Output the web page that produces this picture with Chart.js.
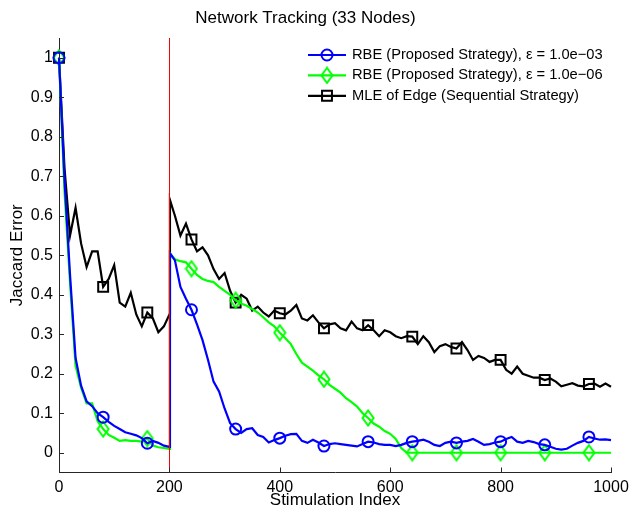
<!DOCTYPE html>
<html>
<head>
<meta charset="utf-8">
<script src="https://cdn.jsdelivr.net/npm/chart.js@4.4.0/dist/chart.umd.min.js"></script>
<style>
  html, body { margin: 0; padding: 0; background: #fff; }
</style>
</head>
<body>
<canvas id="chart" width="631" height="513"></canvas>
<script>
// stimulation index sampled every 10 steps (+ the step right after the change at 200)
const stimIndex = [0, 10, 20, 30, 40, 50, 60, 70, 80, 90, 100, 110, 120, 130, 140, 150, 160, 170, 180, 190, 200,
  201, 210, 220, 230, 240, 250, 260, 270, 280, 290, 300, 310, 320, 330, 340, 350, 360, 370, 380, 390, 400,
  410, 420, 430, 440, 450, 460, 470, 480, 490, 500, 510, 520, 530, 540, 550, 560, 570, 580, 590, 600,
  610, 620, 630, 640, 650, 660, 670, 680, 690, 700, 710, 720, 730, 740, 750, 760, 770, 780, 790, 800,
  810, 820, 830, 840, 850, 860, 870, 880, 890, 900, 910, 920, 930, 940, 950, 960, 970, 980, 990, 1000];

// RBE, eps = 1.0e-03
const rbeLoose = [1.0, 0.69, 0.45, 0.24, 0.17, 0.13, 0.118, 0.10, 0.09, 0.078, 0.068, 0.06, 0.052, 0.048, 0.044, 0.037, 0.024, 0.03, 0.025, 0.018, 0.015,
  0.505, 0.487, 0.42, 0.39, 0.362, 0.325, 0.285, 0.235, 0.18, 0.155, 0.112,
  0.075, 0.06, 0.05, 0.06, 0.062, 0.045, 0.04, 0.026, 0.032, 0.037,
  0.043, 0.047, 0.048, 0.03, 0.025, 0.033, 0.026, 0.017, 0.022, 0.024,
  0.022, 0.02, 0.018, 0.016, 0.022, 0.028, 0.026, 0.022, 0.02, 0.02,
  0.017, 0.02, 0.025, 0.028, 0.03, 0.033, 0.028, 0.02, 0.017, 0.025,
  0.028, 0.025, 0.028, 0.03, 0.035, 0.028, 0.02, 0.022, 0.026, 0.028,
  0.035, 0.04, 0.028, 0.025, 0.03, 0.027, 0.022, 0.02, 0.015, 0.01,
  0.008, 0.01, 0.018, 0.025, 0.03, 0.04, 0.036, 0.033, 0.034, 0.032];

// RBE, eps = 1.0e-06
const rbeTight = [1.0, 0.66, 0.43, 0.22, 0.165, 0.125, 0.125, 0.08, 0.06, 0.045, 0.038, 0.03, 0.032, 0.03, 0.03, 0.028, 0.036, 0.018, 0.014, 0.012, 0.01,
  0.505, 0.49, 0.485, 0.482, 0.466, 0.45, 0.44, 0.435, 0.432, 0.42, 0.41,
  0.40, 0.386, 0.378, 0.372, 0.364, 0.355, 0.343, 0.33, 0.32, 0.304,
  0.29, 0.275, 0.25, 0.228, 0.218, 0.208, 0.196, 0.186, 0.172, 0.162,
  0.152, 0.138, 0.128, 0.117, 0.10, 0.088, 0.074, 0.066, 0.055, 0.048,
  0.035, 0.012, 0, 0, 0, 0, 0, 0, 0, 0,
  0, 0, 0, 0, 0, 0, 0, 0, 0, 0,
  0, 0, 0, 0, 0, 0, 0, 0, 0, 0,
  0, 0, 0, 0, 0, 0, 0, 0, 0, 0];

// MLE of edge (sequential)
const mleEdge = [1.0, 0.72, 0.55, 0.62, 0.53, 0.47, 0.51, 0.51, 0.42, 0.44, 0.475, 0.38, 0.37, 0.405, 0.35, 0.32, 0.355, 0.34, 0.305, 0.32, 0.35,
  0.64, 0.60, 0.55, 0.58, 0.54, 0.51, 0.52, 0.50, 0.465, 0.44, 0.455,
  0.41, 0.38, 0.40, 0.39, 0.36, 0.37, 0.355, 0.345, 0.36, 0.353,
  0.35, 0.36, 0.374, 0.34, 0.335, 0.348, 0.33, 0.315, 0.325, 0.328,
  0.315, 0.31, 0.332, 0.315, 0.31, 0.323, 0.31, 0.295, 0.31, 0.305,
  0.295, 0.29, 0.295, 0.294, 0.275, 0.295, 0.28, 0.255, 0.27, 0.275,
  0.268, 0.264, 0.28, 0.26, 0.235, 0.245, 0.24, 0.23, 0.235, 0.235,
  0.21, 0.20, 0.218, 0.20, 0.195, 0.19, 0.19, 0.184, 0.188, 0.18,
  0.168, 0.172, 0.176, 0.17, 0.168, 0.174, 0.175, 0.167, 0.175, 0.167];

const seriesLabels = [
  'RBE (Proposed Strategy), \u03b5 = 1.0e\u221203',
  'RBE (Proposed Strategy), \u03b5 = 1.0e\u221206',
  'MLE of Edge (Sequential Strategy)'
];
const xTicks = [0, 200, 400, 600, 800, 1000];
const yTicks = [0, 0.1, 0.2, 0.3, 0.4, 0.5, 0.6, 0.7, 0.8, 0.9, 1];
const yTickLabels = ['0', '0.1', '0.2', '0.3', '0.4', '0.5', '0.6', '0.7', '0.8', '0.9', '1'];
const changePoint = 200;
const markerEvery = 80;

const fontFamily = '"Liberation Sans", Arial, Helvetica, sans-serif';
const axisColor = '#262626';

// matlab style diamond, a bit taller than wide
function diamondImage(color) {
  const c = document.createElement('canvas');
  c.width = 14; c.height = 18;
  const g = c.getContext('2d');
  g.strokeStyle = color;
  g.lineWidth = 2;
  g.beginPath();
  g.moveTo(7, 1.5); g.lineTo(12.5, 9); g.lineTo(7, 16.5); g.lineTo(1.5, 9);
  g.closePath();
  g.stroke();
  return c;
}

const styles = [
  { color: '#0000ff', marker: 'circle', radius: 5.5 },
  { color: '#00ff00', marker: diamondImage('#00ff00'), radius: 7 },
  { color: '#000000', marker: 'rect', radius: 7 }
];
const series = [rbeLoose, rbeTight, mleEdge];

const datasets = series.map((vals, k) => ({
  label: seriesLabels[k],
  data: stimIndex.map((x, i) => ({ x: x, y: vals[i] })),
  borderColor: styles[k].color,
  backgroundColor: 'transparent',
  borderWidth: 2.2,
  tension: 0,
  clip: false,
  pointStyle: styles[k].marker,
  pointRadius: c => (stimIndex[c.dataIndex] % markerEvery === 0 ? styles[k].radius : 0),
  pointHoverRadius: 0,
  pointBorderColor: styles[k].color,
  pointBackgroundColor: 'transparent',
  pointBorderWidth: 2
}));

// inward ticks + red line at the change point
const axisExtras = {
  id: 'axisExtras',
  afterDatasetsDraw(chart) {
    const { ctx, chartArea, scales } = chart;
    ctx.save();
    ctx.strokeStyle = 'rgb(255,0,0)';
    ctx.lineWidth = 1;
    const rx = Math.round(scales.x.getPixelForValue(changePoint)) + 0.5;
    ctx.beginPath();
    ctx.moveTo(rx, chartArea.top);
    ctx.lineTo(rx, chartArea.bottom);
    ctx.stroke();
    ctx.restore();

    ctx.save();
    ctx.strokeStyle = axisColor;
    ctx.lineWidth = 1;
    ctx.beginPath();
    yTicks.forEach(v => {
      const py = Math.round(scales.y.getPixelForValue(v)) + 0.5;
      ctx.moveTo(chartArea.left, py);
      ctx.lineTo(chartArea.left + 5, py);
    });
    xTicks.forEach(v => {
      const px = Math.round(scales.x.getPixelForValue(v)) + 0.5;
      ctx.moveTo(px, chartArea.bottom);
      ctx.lineTo(px, chartArea.bottom - 5);
    });
    ctx.stroke();
    ctx.restore();
  }
};

const legendBox = {
  id: 'legendBox',
  afterDraw(chart) {
    const { ctx, chartArea } = chart;
    ctx.save();
    ctx.font = '14.7px ' + fontFamily;
    ctx.textBaseline = 'middle';
    chart.data.datasets.forEach((ds, i) => {
      const y = chartArea.top + 17 + i * 20.4;
      const x0 = chartArea.right - 303;
      const x1 = x0 + 38;
      ctx.strokeStyle = ds.borderColor;
      ctx.lineWidth = 2.2;
      ctx.beginPath();
      ctx.moveTo(x0, y);
      ctx.lineTo(x1, y);
      ctx.stroke();
      ctx.lineWidth = 2;
      ctx.fillStyle = 'rgba(0,0,0,0)';
      Chart.helpers.drawPoint(ctx, { pointStyle: ds.pointStyle, rotation: 0, radius: styles[i].radius, borderWidth: 2 }, (x0 + x1) / 2, y);
      ctx.fillStyle = '#000';
      ctx.fillText(ds.label, x1 + 6, y);
    });
    ctx.restore();
  }
};

Chart.defaults.font.family = fontFamily;
Chart.defaults.color = '#000';

new Chart(document.getElementById('chart'), {
  type: 'line',
  data: { datasets: datasets },
  options: {
    responsive: false,
    animation: false,
    devicePixelRatio: 1,
    layout: { padding: { left: 0, right: 20, top: 0, bottom: 0 } },
    plugins: {
      legend: { display: false },
      tooltip: { enabled: false },
      title: {
        display: true,
        text: 'Network Tracking (33 Nodes)',
        font: { size: 17, weight: 'normal' },
        color: '#000',
        padding: { top: 8, bottom: 9.6 }
      }
    },
    scales: {
      x: {
        type: 'linear',
        min: 0,
        max: 1000,
        afterBuildTicks: s => { s.ticks = xTicks.map(v => ({ value: v })); },
        afterFit: s => { s.height = 40.5; s.paddingLeft = 0; s.paddingRight = 0; },
        grid: { display: false, drawTicks: false },
        border: { display: true, color: axisColor, width: 1 },
        ticks: { padding: 5, maxRotation: 0, autoSkip: false, font: { size: 16 }, color: '#000', callback: v => String(v) },
        title: { display: true, text: 'Stimulation Index', font: { size: 17 }, color: '#000', padding: { top: 0, bottom: 2 } }
      },
      y: {
        type: 'linear',
        min: -0.05,
        max: 1.05,
        afterBuildTicks: s => { s.ticks = yTicks.map(v => ({ value: v })); },
        afterFit: s => { s.width = 59; s.paddingTop = 0; s.paddingBottom = 0; },
        grid: { display: false, drawTicks: false },
        border: { display: true, color: axisColor, width: 1 },
        ticks: { padding: 6, font: { size: 16 }, color: '#000', callback: (v, i) => yTickLabels[i] },
        title: { display: true, text: 'Jaccard Error', font: { size: 17 }, color: '#000', padding: { top: 7, bottom: 0 } }
      }
    }
  },
  plugins: [axisExtras, legendBox]
});
</script>
</body>
</html>
